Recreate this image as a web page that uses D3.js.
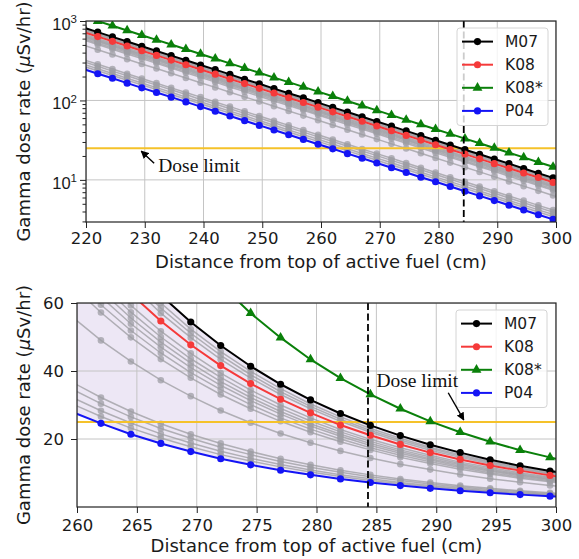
<!DOCTYPE html>
<html>
<head>
<meta charset="utf-8">
<script src="https://cdn.jsdelivr.net/npm/d3@7"></script>
<style>
  body { margin: 0; background: #fff; }
  svg { display: block; font-family: "DejaVu Sans", sans-serif; }
</style>
</head>
<body>
<svg id="chart" width="579" height="559"></svg>
<script>
// Distance from top of active fuel (cm), one point every 2.5 cm
const distance = [219.5,222,224.5,227,229.5,232,234.5,237,239.5,242,244.5,247,249.5,252,254.5,257,259.5,262,264.5,267,269.5,272,274.5,277,279.5,282,284.5,287,289.5,292,294.5,297,299.5,302];

// Gamma dose rate (uSv/hr) for the named assemblies
const m07 = [830,724,632,552,481,420,367,320,279,244,213,185,162,141,123,108,93.8,81.9,71.4,62.3,54.4,47.5,41.4,36.1,31.5,27.5,24.0,21.0,18.3,16.0,13.9,12.1,10.6,9.25];
const k08 = [728,636,555,484,422,369,322,281,245,214,186,163,142,124,108,94.3,82.3,71.8,62.7,54.7,47.7,41.6,36.3,31.7,27.7,24.1,21.1,18.4,16.0,14.0,12.2,10.7,9.3,8.12];
const k08s = [1144,998,871,760,663,579,505,441,384,335,293,255,223,194,170,148,129,113,98.4,85.8,74.9,65.4,57.0,49.8,43.4,37.9,33.1,28.9,25.2,22.0,19.2,16.7,14.6,12.7];
const p04 = [249,217,190,165,144,126,110,95.9,83.7,73.1,63.8,55.6,48.5,42.4,37.0,32.3,28.1,24.6,21.4,18.7,16.3,14.2,12.4,10.8,9.46,8.26,7.20,6.29,5.49,4.79,4.18,3.64,3.18,2.77];

// the other assemblies (grey)
const g01 = [799,697,608,531,463,404,353,308,269,234,204,178,156,136,119,103,90.3,78.8,68.7,60.0,52.3,45.7,39.9,34.8,30.3,26.5,23.1,20.2,17.6,15.4,13.4,11.7,10.2,8.90];
const g02 = [779,680,593,518,452,394,344,300,262,229,199,174,152,133,116,101,88.1,76.8,67.1,58.5,51.1,44.6,38.9,33.9,29.6,25.8,22.5,19.7,17.2,15.0,13.1,11.4,9.95,8.68];
const g03 = [760,663,579,505,441,384,335,293,255,223,194,170,148,129,113,98.4,85.8,74.9,65.4,57.0,49.8,43.4,37.9,33.1,28.9,25.2,22.0,19.2,16.7,14.6,12.7,11.1,9.7,8.46];
const g04 = [689,601,525,458,400,349,304,266,232,202,176,154,134,117,102,89.2,77.9,68.0,59.3,51.7,45.2,39.4,34.4,30.0,26.2,22.8,19.9,17.4,15.2,13.2,11.6,10.1,8.8,7.68];
const g05 = [666,581,507,442,386,337,294,256,224,195,170,149,130,113,98.8,86.2,75.2,65.6,57.3,50.0,43.6,38.1,33.2,29.0,25.3,22.1,19.3,16.8,14.7,12.8,11.2,9.74,8.5,7.42];
const g06 = [646,564,492,429,375,327,285,249,217,190,165,144,126,110,95.9,83.7,73.0,63.7,55.6,48.5,42.3,36.9,32.2,28.1,24.5,21.4,18.7,16.3,14.2,12.4,10.8,9.45,8.25,7.20];
const g07 = [627,547,477,416,363,317,277,241,211,184,160,140,122,107,93.0,81.1,70.8,61.8,53.9,47.0,41.0,35.8,31.3,27.3,23.8,20.8,18.1,15.8,13.8,12.0,10.5,9.17,8.0,6.98];
const g08 = [603,526,459,401,350,305,266,232,203,177,154,135,118,103,89.5,78.1,68.1,59.5,51.9,45.3,39.5,34.5,30.1,26.2,22.9,20.0,17.4,15.2,13.3,11.6,10.1,8.82,7.7,6.72];
const g09 = [580,506,441,385,336,293,256,223,195,170,148,129,113,98.6,86.0,75.1,65.5,57.2,49.9,43.5,38.0,33.1,28.9,25.2,22.0,19.2,16.8,14.6,12.8,11.1,9.72,8.48,7.4,6.46];
const g10 = [497,434,379,330,288,252,220,192,167,146,127,111,96.9,84.6,73.8,64.4,56.2,49.0,42.8,37.3,32.6,28.4,24.8,21.6,18.9,16.5,14.4,12.6,11.0,9.56,8.34,7.28,6.35,5.54];
const g11 = [327,285,249,217,189,165,144,126,110,95.8,83.6,72.9,63.7,55.5,48.5,42.3,36.9,32.2,28.1,24.5,21.4,18.7,16.3,14.2,12.4,10.8,9.45,8.24,7.19,6.28,5.48,4.78,4.17,3.64];
const g12 = [308,269,234,205,178,156,136,119,103,90.3,78.8,68.8,60.0,52.3,45.7,39.9,34.8,30.4,26.5,23.1,20.2,17.6,15.4,13.4,11.7,10.2,8.90,7.77,6.78,5.91,5.16,4.50,3.93,3.43];
const g13 = [287,250,218,190,166,145,127,110,96.4,84.1,73.4,64.0,55.9,48.8,42.5,37.1,32.4,28.3,24.7,21.5,18.8,16.4,14.3,12.5,10.9,9.50,8.29,7.24,6.31,5.51,4.81,4.19,3.66,3.19];
const g14 = [270,236,206,180,157,137,119,104,90.8,79.3,69.2,60.4,52.7,46.0,40.1,35.0,30.5,26.6,23.2,20.3,17.7,15.4,13.5,11.8,10.3,8.96,7.81,6.82,5.95,5.19,4.53,3.95,3.45,3.01];
const otherCores = [g01,g02,g03,g04,g05,g06,g07,g08,g09,g10,g11,g12,g13,g14];

const doseLimit = 25;
const cutDistance = 284.3;

// tick labels
const topDistanceTicks = [220,230,240,250,260,270,280,290,300];
const topRateTicks = [10,100,1000];
const topRateMinor = [3,4,5,6,7,8,9,20,30,40,50,60,70,80,90,200,300,400,500,600,700,800,900];
const bottomDistanceTicks = [260,265,270,275,280,285,290,295,300];
const bottomRateTicks = [20,40,60];

const legendNames = ["M07","K08","K08*","P04"];

const main = [
  { values: m07, color: "#000000", shape: "circle" },
  { values: k08, color: "#f53a3a", shape: "circle" },
  { values: k08s, color: "#0a800a", shape: "triangle" },
  { values: p04, color: "#1414f5", shape: "circle" },
];

const svg = d3.select("#chart");
const defs = svg.append("defs");
defs.append("marker")
  .attr("id", "arrow")
  .attr("viewBox", "0 0 10 10")
  .attr("refX", 9).attr("refY", 5)
  .attr("markerWidth", 8).attr("markerHeight", 8)
  .attr("markerUnits", "userSpaceOnUse")
  .attr("orient", "auto")
  .append("path").attr("d", "M0,0L10,5L0,10Z").attr("fill", "#000");

const panels = [
  {
    id: "top", left: 86, right: 556, top: 21, bottom: 222,
    xDomain: [220, 300], xTicks: topDistanceTicks, xPad: 4,
    log: true, yDomain: [2.95, 1000], yTicks: topRateTicks, yMinor: topRateMinor,
    legend: [457, 28], xLabelY: 268,
    note: { text: [232.3, 12.6], from: [231.6, 16.2], to: [229.4, 23.0] },
  },
  {
    id: "bottom", left: 77, right: 556, top: 303, bottom: 507,
    xDomain: [260, 300], xTicks: bottomDistanceTicks, xPad: 6,
    log: false, yDomain: [0, 60], yTicks: bottomRateTicks, yMinor: [],
    legend: [456, 310], xLabelY: 552,
    note: { text: [285.0, 35.3], from: [291.0, 33.6], to: [292.3, 25.6] },
  },
];

panels.forEach(drawPanel);

function drawPanel(p) {
  const x = d3.scaleLinear().domain(p.xDomain).range([p.left, p.right]);
  const y = (p.log ? d3.scaleLog() : d3.scaleLinear()).domain(p.yDomain).range([p.bottom, p.top]);
  const w = p.right - p.left, h = p.bottom - p.top;

  defs.append("clipPath").attr("id", "clip-" + p.id)
    .append("rect").attr("x", p.left).attr("y", p.top).attr("width", w).attr("height", h);

  const g = svg.append("g");
  const plot = g.append("g").attr("clip-path", `url(#clip-${p.id})`);

  // shaded band between lowest and highest assembly
  const band = d3.area()
    .x((d, i) => x(distance[i]))
    .y0((d, i) => y(p04[i]))
    .y1(d => y(d));
  plot.append("path").datum(m07).attr("d", band).attr("fill", "#ede7f5");

  // grid
  plot.selectAll(".vgrid").data(p.xTicks).join("line")
    .attr("x1", d => x(d)).attr("x2", d => x(d))
    .attr("y1", p.top).attr("y2", p.bottom)
    .attr("stroke", "#c4c4c4").attr("stroke-width", 1);
  plot.selectAll(".hgrid").data(p.yTicks).join("line")
    .attr("x1", p.left).attr("x2", p.right)
    .attr("y1", d => y(d)).attr("y2", d => y(d))
    .attr("stroke", "#c4c4c4").attr("stroke-width", 1);

  const line = d3.line().x((d, i) => x(distance[i])).y(d => y(d));

  // grey assemblies
  otherCores.forEach(vals => {
    plot.append("path").datum(vals).attr("d", line)
      .attr("fill", "none").attr("stroke", "#9b9b9f").attr("stroke-opacity", 0.75).attr("stroke-width", 1.5);
    plot.append("g").selectAll("circle").data(vals).join("circle")
      .attr("cx", (d, i) => x(distance[i])).attr("cy", d => y(d))
      .attr("r", 3.3).attr("fill", "#9e9ea4").attr("fill-opacity", 0.75);
  });

  // dose limit
  plot.append("line")
    .attr("x1", p.left).attr("x2", p.right)
    .attr("y1", y(doseLimit)).attr("y2", y(doseLimit))
    .attr("stroke", "#f5c22a").attr("stroke-width", 2);

  // highlighted assemblies
  main.forEach(s => {
    plot.append("path").datum(s.values).attr("d", line)
      .attr("fill", "none").attr("stroke", s.color).attr("stroke-width", 2);
    const pts = plot.append("g").selectAll("path").data(s.values).join("path")
      .attr("transform", (d, i) => `translate(${x(distance[i])},${y(d)})`)
      .attr("fill", s.color);
    pts.attr("d", s.shape === "triangle"
      ? d3.symbol(d3.symbolTriangle, 42)()
      : d3.symbol(d3.symbolCircle, 40)());
  });

  // reference distance
  plot.append("line")
    .attr("x1", x(cutDistance)).attr("x2", x(cutDistance))
    .attr("y1", p.top).attr("y2", p.bottom)
    .attr("stroke", "#000").attr("stroke-width", 1.8).attr("stroke-dasharray", "7,3.5");

  // frame
  g.append("rect").attr("x", p.left).attr("y", p.top).attr("width", w).attr("height", h)
    .attr("fill", "none").attr("stroke", "#222").attr("stroke-width", 1.2);

  // x axis
  const xa = g.append("g").attr("transform", `translate(0,${p.bottom})`)
    .call(d3.axisBottom(x).tickValues(p.xTicks).tickSize(6).tickPadding(p.xPad).tickFormat(d3.format("d")));
  xa.select(".domain").remove();
  xa.selectAll("line").attr("stroke", "#222");
  xa.selectAll("text").attr("font-size", "16.5px").attr("fill", "#1a1a1a").attr("font-family", "DejaVu Sans");

  // y axis
  if (p.log) {
    const minor = g.append("g").attr("transform", `translate(${p.left},0)`)
      .call(d3.axisLeft(y).tickValues(p.yMinor).tickSize(3.5).tickFormat(""));
    minor.select(".domain").remove();
    minor.selectAll("line").attr("stroke", "#222");
    const ya = g.append("g").attr("transform", `translate(${p.left},0)`)
      .call(d3.axisLeft(y).tickValues(p.yTicks).tickSize(6).tickFormat(""));
    ya.select(".domain").remove();
    ya.selectAll("line").attr("stroke", "#222");
    ya.selectAll(".tick").each(function(d) {
      const t = d3.select(this).append("text")
        .attr("x", -9).attr("dy", "0.5em").attr("text-anchor", "end")
        .attr("fill", "#1a1a1a").attr("font-size", "16.5px");
      t.append("tspan").text("10");
      t.append("tspan").attr("dy", "-0.55em").attr("font-size", "11.5px").text(Math.round(Math.log10(d)));
    });
  } else {
    const ya = g.append("g").attr("transform", `translate(${p.left},0)`)
      .call(d3.axisLeft(y).tickValues(p.yTicks).tickSize(6).tickPadding(7));
    ya.select(".domain").remove();
    ya.selectAll("line").attr("stroke", "#222");
    ya.selectAll("text").attr("font-size", "16.5px").attr("fill", "#1a1a1a").attr("font-family", "DejaVu Sans");
  }

  // axis titles
  g.append("text")
    .attr("x", (p.left + p.right) / 2).attr("y", p.xLabelY)
    .attr("text-anchor", "middle").attr("font-size", "18px").attr("fill", "#1a1a1a")
    .text("Distance from top of active fuel (cm)");
  const yl = g.append("text")
    .attr("transform", `translate(30,${(p.top + p.bottom) / 2}) rotate(-90)`)
    .attr("text-anchor", "middle").attr("font-size", "18px").attr("fill", "#1a1a1a");
  yl.append("tspan").text("Gamma dose rate (");
  yl.append("tspan").attr("font-style", "italic").text("\u03bc");
  yl.append("tspan").text("Sv/hr)");

  drawLegend(g, p.legend[0], p.legend[1]);

  // dose limit note (drawn over the legend, as in the source figure)
  g.append("line")
    .attr("x1", x(p.note.from[0])).attr("y1", y(p.note.from[1]))
    .attr("x2", x(p.note.to[0])).attr("y2", y(p.note.to[1]))
    .attr("stroke", "#000").attr("stroke-width", 1.4).attr("marker-end", "url(#arrow)");
  g.append("text")
    .attr("x", x(p.note.text[0])).attr("y", y(p.note.text[1]))
    .attr("font-family", "Liberation Serif, serif").attr("font-size", "19.5px").attr("fill", "#111")
    .text("Dose limit");
}

function drawLegend(g, x0, y0) {
  const lg = g.append("g");
  lg.append("rect").attr("x", x0).attr("y", y0).attr("width", 91).attr("height", 97.5).attr("rx", 3)
    .attr("fill", "#fff").attr("fill-opacity", 0.8).attr("stroke", "#d4d4d4");
  legendNames.forEach((name, i) => {
    const cy = y0 + 13.6 + i * 23.1;
    const s = main[i];
    lg.append("line").attr("x1", x0 + 5).attr("x2", x0 + 36).attr("y1", cy).attr("y2", cy)
      .attr("stroke", s.color).attr("stroke-width", 2);
    lg.append("path").attr("transform", `translate(${x0 + 20.5},${cy})`)
      .attr("d", s.shape === "triangle" ? d3.symbol(d3.symbolTriangle, 42)() : d3.symbol(d3.symbolCircle, 40)())
      .attr("fill", s.color);
    lg.append("text").attr("x", x0 + 48).attr("y", cy + 5.5)
      .attr("font-size", "15.5px").attr("fill", "#1a1a1a").text(name);
  });
}
</script>
</body>
</html>
